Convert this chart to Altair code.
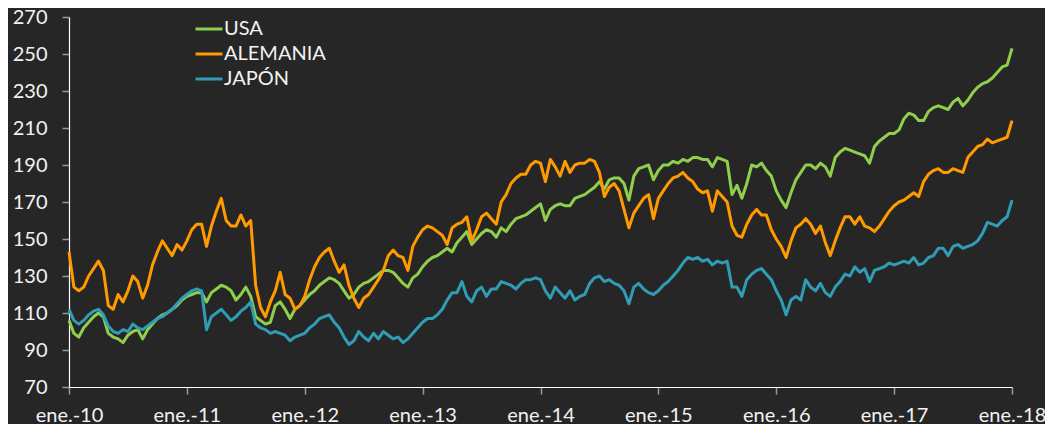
import altair as alt
import pandas as pd

# ---- data (semi-monthly samples, Jan-2010 .. Jan-2018) ----
x_tick_labels = ["ene.-10", "ene.-11", "ene.-12", "ene.-13", "ene.-14",
                 "ene.-15", "ene.-16", "ene.-17", "ene.-18"]
x_tick_months = [0, 12, 24, 36, 48, 60, 72, 84, 96]
y_ticks = [70, 90, 110, 130, 150, 170, 190, 210, 230, 250, 270]

series_names = ["USA", "ALEMANIA", "JAPÓN"]
series_colors = ["#8FCF4C", "#FF9A00", "#2F9DB5"]

usa = [
    106, 99, 97, 102, 105, 108, 110, 108, 99, 97, 96, 94, 98, 100, 101, 96, 101, 104, 107, 109, 110, 112, 114, 117,
    119, 120, 121, 121, 116, 121, 123, 125, 124, 122, 117, 120, 124, 119, 108, 106, 104, 105, 114, 116, 112, 107, 112, 114,
    117, 120, 122, 125, 127, 129, 128, 126, 122, 118, 120, 124, 126, 127, 129, 131, 133, 133, 132, 129, 126, 124, 129, 131,
    135, 138, 140, 141, 143, 145, 143, 148, 151, 154, 147, 150, 153, 155, 154, 151, 156, 154, 158, 161, 162, 163, 165, 167,
    169, 160, 166, 168, 169, 168, 168, 172, 173, 174, 176, 178, 181, 177, 182, 183, 183, 180, 171, 184, 188, 189, 190, 182,
    187, 190, 190, 192, 191, 193, 192, 194, 194, 193, 193, 189, 194, 193, 192, 174, 179, 172, 180, 190, 189, 191, 187, 184,
    176, 171, 167, 175, 182, 186, 190, 190, 188, 191, 189, 184, 194, 197, 199, 198, 197, 196, 195, 191, 200, 203, 205, 207,
    207, 209, 215, 218, 217, 214, 214, 219, 221, 222, 221, 220, 224, 226, 222, 225, 229, 232, 234, 235, 237, 240, 243, 244,
    253,
]
alemania = [
    143, 124, 122, 124, 130, 134, 138, 133, 114, 112, 120, 116, 122, 130, 127, 118, 125, 136, 143, 149, 145, 141, 147, 144,
    149, 155, 158, 158, 146, 157, 165, 172, 160, 157, 157, 163, 157, 160, 125, 113, 108, 116, 122, 132, 120, 118, 112, 114,
    119, 128, 135, 140, 143, 145, 138, 132, 136, 125, 118, 113, 118, 120, 124, 128, 133, 141, 144, 141, 140, 133, 146, 151,
    155, 157, 156, 154, 152, 147, 156, 158, 159, 162, 149, 155, 162, 164, 161, 158, 170, 174, 180, 183, 185, 185, 190, 192,
    191, 181, 193, 189, 184, 192, 186, 190, 191, 191, 193, 192, 186, 173, 178, 180, 176, 166, 156, 164, 168, 172, 174, 161,
    172, 176, 180, 183, 184, 186, 183, 181, 177, 175, 176, 165, 176, 173, 170, 157, 152, 151, 158, 163, 166, 163, 163, 155,
    150, 146, 140, 149, 156, 158, 161, 158, 153, 157, 148, 141, 149, 156, 162, 162, 158, 162, 157, 156, 154, 157, 161, 165,
    168, 170, 171, 173, 175, 173, 181, 185, 187, 188, 186, 186, 188, 187, 186, 194, 197, 200, 201, 204, 202, 203, 204, 205,
    214,
]
japon = [
    112, 106, 104, 106, 109, 111, 112, 109, 103, 100, 99, 101, 100, 104, 102, 101, 103, 105, 107, 108, 110, 112, 115, 118,
    120, 122, 123, 122, 101, 108, 110, 112, 109, 106, 108, 111, 113, 116, 104, 102, 101, 99, 100, 99, 98, 95, 97, 98,
    99, 102, 104, 107, 108, 109, 105, 102, 97, 93, 95, 100, 97, 95, 99, 96, 100, 98, 96, 97, 94, 96, 99, 102,
    105, 107, 107, 109, 112, 117, 121, 121, 127, 119, 116, 122, 124, 119, 123, 123, 127, 126, 125, 123, 126, 128, 128, 129,
    128, 122, 118, 124, 121, 118, 122, 117, 119, 120, 126, 129, 130, 127, 128, 126, 125, 122, 115, 124, 126, 123, 121, 120,
    122, 125, 127, 130, 133, 137, 140, 139, 140, 138, 139, 136, 138, 137, 138, 124, 124, 119, 128, 131, 133, 134, 131, 128,
    122, 117, 109, 117, 119, 117, 128, 124, 122, 126, 121, 119, 124, 127, 131, 130, 135, 132, 134, 127, 133, 134, 135, 137,
    136, 137, 138, 137, 140, 136, 137, 140, 141, 145, 145, 141, 146, 147, 145, 146, 147, 149, 153, 159, 158, 157, 160, 162,
    171,
]

months = [i / 2 for i in range(len(usa))]  # sample position in months since Jan-2010

rows = []
for name, vals in zip(series_names, [usa, alemania, japon]):
    for m, v in zip(months, vals):
        rows.append({"mes": m, "serie": name, "valor": v})
df = pd.DataFrame(rows)

label_expr = "[" + ",".join("'%s'" % s for s in x_tick_labels) + "][round(datum.value / 12)]"

FONT = "Lato"
TXT = "#f2f2f2"

x_enc = alt.X(
    "mes:Q",
    scale=alt.Scale(domain=[0, 96], nice=False, zero=False),
    axis=alt.Axis(values=x_tick_months, labelExpr=label_expr, title=None, grid=False,
                  labelPadding=11, labelFlush=False, labelOverlap=False),
)
y_enc = alt.Y(
    "valor:Q",
    scale=alt.Scale(domain=[70, 270], nice=False, zero=False),
    axis=alt.Axis(values=y_ticks, title=None, grid=False, labelPadding=15, format="d"),
)
color_enc = alt.Color(
    "serie:N",
    scale=alt.Scale(domain=series_names, range=series_colors),
    legend=alt.Legend(title=None, orient="none", legendX=125, legendY=-3,
                      symbolType="stroke", symbolSize=729, symbolStrokeWidth=3,
                      labelFont=FONT, labelFontSize=20, labelColor=TXT,
                      labelOffset=0, rowPadding=0, padding=0),
)

base = alt.Chart(df).mark_line(strokeWidth=3, strokeJoin="round").encode(
    x=x_enc, y=y_enc, color=color_enc
)
layers = [base.transform_filter(alt.datum.serie == s) for s in series_names]

chart = (
    alt.layer(*layers)
    .properties(
        width=943, height=370,
        autosize=alt.AutoSizeParams(type="none"),
        padding={"left": 61, "top": 9, "right": 33, "bottom": 37},
        background="#262626",
    )
    .configure_view(stroke=None)
    .configure_axis(
        labelFont=FONT, labelFontSize=20, labelColor=TXT,
        domainColor="#ffffff", domainWidth=1.2,
        tickColor="#9a9a9a", tickSize=7, tickWidth=1.5,
    )
)

chart.save("out.html", embed_options={"renderer": "svg", "actions": False})
